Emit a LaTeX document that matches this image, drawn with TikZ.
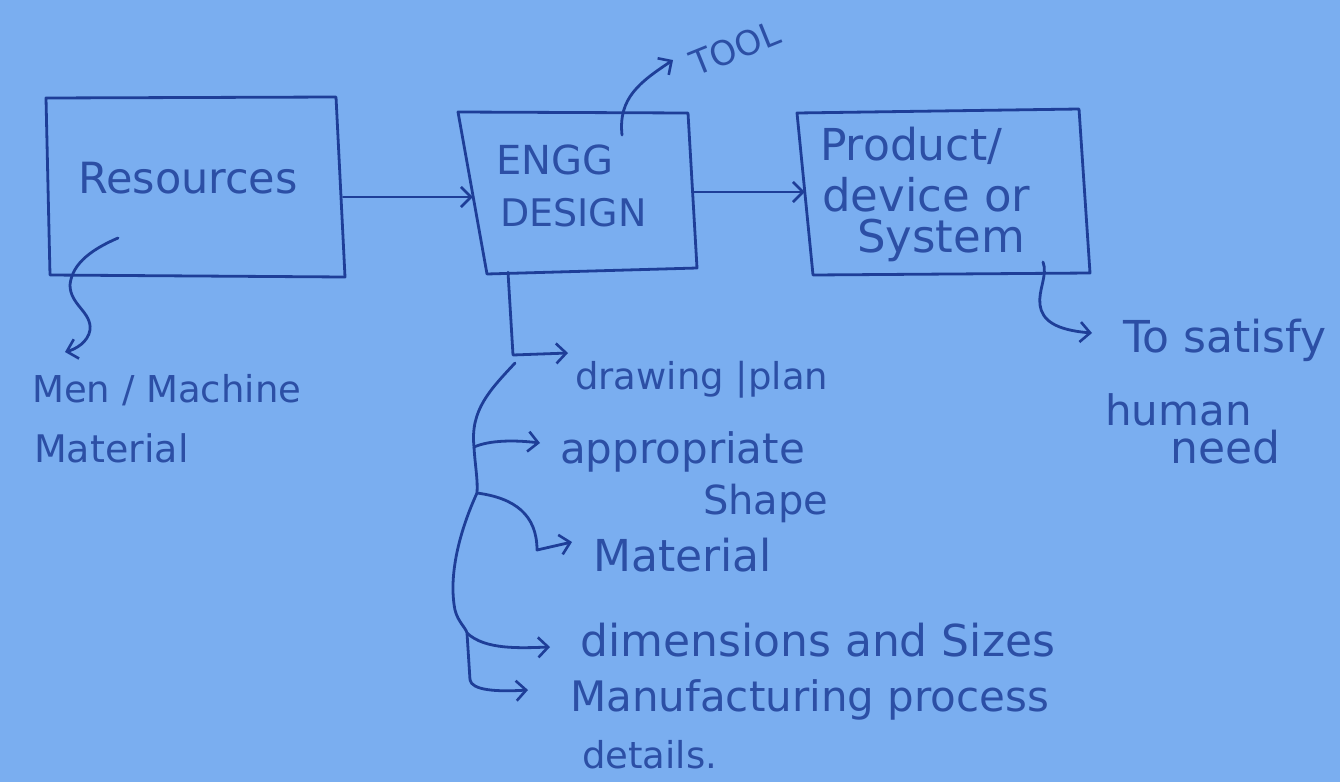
\documentclass[tikz,border=0pt]{standalone}
\usepackage{fontspec}
\setmainfont{DejaVu Sans}
\usetikzlibrary{arrows.meta}
\definecolor{paper}{RGB}{122,174,240}
\definecolor{ink}{RGB}{30,62,152}
\newcommand\fsz[1]{\fontsize{#1}{#1}\selectfont}
\begin{document}
\begin{tikzpicture}[x=1pt,y=-1pt,
  box/.style={draw=none,inner sep=0pt},
  lbl/.style={text=ink!85!paper,inner sep=0pt,anchor=west},
  line/.style={draw=ink,line width=2.8pt,line cap=round,line join=round},
  conn/.style={line,-{Straight Barb[length=10pt,width=20pt,line width=2.6pt]}}]
\fill[paper] (0,0) rectangle (1340,782);
\useasboundingbox (0,0) rectangle (1340,782);
% boxes (hand-drawn, slightly skewed outlines)
\node[box,minimum width=295pt,minimum height=178pt] (res) at (195.5,187) {};
\node[box,minimum width=220pt,minimum height=160pt] (eng) at (583,192) {};
\node[box,minimum width=280pt,minimum height=162pt] (prod) at (945,192) {};
\draw[line] (46,98) -- (336,97) -- (345,277) -- (50,275) -- cycle;
\draw[line] (458,112) -- (688,113) -- (697,268) -- (487,274) -- cycle;
\draw[line] (797,113) -- (1079,109) -- (1090,273) -- (813,275) -- cycle;
% box texts
\node[lbl,font=\fsz{43}] (restxt) at (78,178) {Resources};
\node[lbl,font=\fsz{40}] (engtxt) at (496,160) {ENGG};
\node[lbl,font=\fsz{38}] (destxt) at (500,213) {DESIGN};
\node[lbl,font=\fsz{44}] (p1) at (820,146) {Product/};
\node[lbl,font=\fsz{45}] (p2) at (822,195) {device or};
\node[lbl,font=\fsz{45}] (p3) at (857,240) {System};
% main arrows
\draw[conn] ([yshift=-10pt]res.east) -- ([yshift=-5pt]eng.west);
\draw[conn] (eng.east) -- (prod.west);
% TOOL
\node[text=ink!85!paper,inner sep=0pt,font=\fsz{34},rotate=22] (tool) at (735,48) {TOOL};
\coordinate (t0) at (622,135);
\coordinate (t1) at (673,60);
\draw[conn] (t0) .. controls (618,98) and (640,82) .. (t1);
% resources hook
\coordinate (r0) at (118,238);
\coordinate (r1) at (65,352);
\draw[conn] (r0) .. controls (95,248) and (72,262) .. (70,285) .. controls (70,305) and (92,312) .. (90,330) .. controls (88,342) and (76,349) .. (r1);
\node[lbl,font=\fsz{37}] (men) at (32,390) {Men / Machine};
\node[lbl,font=\fsz{38}] (mat) at (34,448) {Material};
% engg tree
\coordinate (e0) at ([xshift=-75pt]eng.south);
\coordinate (e1) at (513,355);
\coordinate (a1) at (568,353);
\draw[conn] (e0) -- (e1) -- (a1);
\coordinate (b0) at (515,363);
\coordinate (b1) at (474,447);
\coordinate (b2) at (477,493);
\coordinate (b3) at (467,633);
\coordinate (b4) at (470,680);
\draw[line] (b0) .. controls (490,390) and (470,410) .. (b1) .. controls (475,465) and (478,480) .. (b2) .. controls (460,530) and (448,575) .. (455,610) .. controls (458,622) and (466,628) .. (b3) -- (b4);
\coordinate (a2) at (540,443);
\coordinate (a3) at (572,542);
\coordinate (a4) at (550,647);
\coordinate (a5) at (528,690);
\draw[conn] (b1) .. controls (490,440) and (515,440) .. (a2);
\draw[conn] (b2) .. controls (515,498) and (537,515) .. (537,550) -- (a3);
\draw[conn] (b3) .. controls (485,650) and (520,648) .. (a4);
\draw[conn] (b4) .. controls (472,690) and (495,692) .. (a5);
\node[lbl,font=\fsz{37}] (draw) at (575,380) {drawing |plan};
\node[lbl,font=\fsz{42}] (appr) at (560,452) {appropriate};
\node[lbl,font=\fsz{40}] (shape) at (703,503) {Shape};
\node[lbl,font=\fsz{44}] (matl) at (593,555) {Material};
\node[lbl,font=\fsz{44}] (dims) at (580,640) {dimensions and Sizes};
\node[lbl,font=\fsz{42}] (manu) at (570,700) {Manufacturing process};
\node[lbl,font=\fsz{37}] (det) at (582,755) {details.};
% product hook
\coordinate (q0) at (1043,262);
\coordinate (q1) at (1092,333);
\draw[conn] (q0) .. controls (1048,275) and (1038,290) .. (1040,305) .. controls (1042,320) and (1055,330) .. (q1);
\node[lbl,font=\fsz{44}] (sat) at (1123,340) {To satisfy};
\node[lbl,font=\fsz{42}] (hum) at (1105,410) {human};
\node[lbl,font=\fsz{44}] (need) at (1170,447) {need};
\end{tikzpicture}
\end{document}
